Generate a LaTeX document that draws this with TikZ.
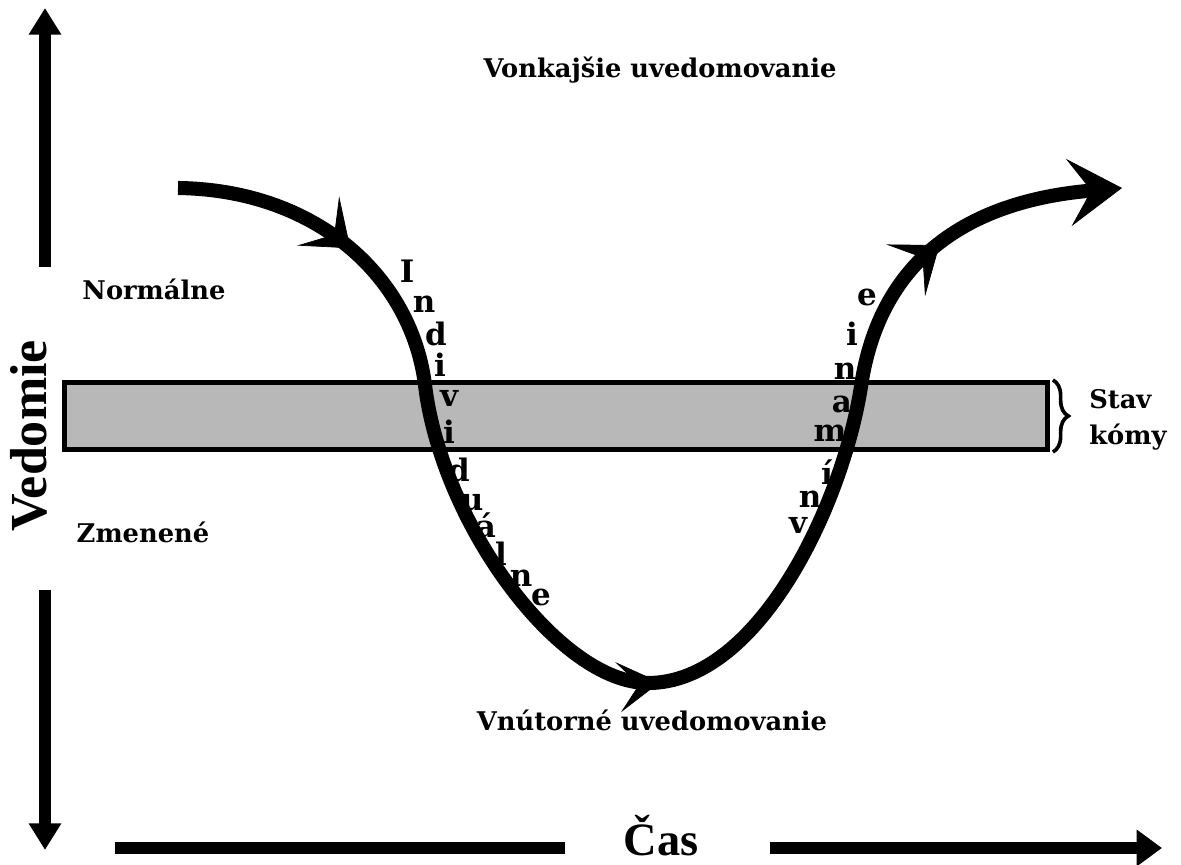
\documentclass[tikz,border=0pt]{standalone}
\usepackage{fontspec}
\usepackage{tikz}
\usetikzlibrary{arrows.meta,decorations.markings,decorations.pathreplacing}
\newfontfamily\tagfont{DejaVu Serif}
\newfontfamily\axisfont{Liberation Serif}

\tikzset{
  tipmark/.style={
    decoration={markings,
      mark=at position 0.125 with {\arrow{Stealth[length=30pt,width=46pt,inset=15pt,line width=0.5pt]}},
      mark=at position 0.505 with {\arrow{Stealth[length=30pt,width=36pt,inset=15pt,line width=0.5pt]}},
      mark=at position 0.87 with {\arrow{Stealth[length=30pt,width=46pt,inset=15pt,line width=0.5pt]}}},
    postaction={decorate}}
}

\begin{document}
\begin{tikzpicture}[x=0.025cm,y=-0.025cm,
  tag/.style={font=\tagfont\bfseries\fontsize{18.3}{26}\selectfont,inner sep=0pt},
  letter/.style={font=\tagfont\bfseries\fontsize{22}{24}\selectfont,inner sep=0pt},
  axistext/.style={font=\axisfont\bfseries\fontsize{37}{40}\selectfont,inner sep=0pt},
  axisline/.style={line width=8pt},
  flow/.style={line width=10pt,-{Stealth[length=38pt,width=48pt,inset=16pt,line width=0.5pt]}}]
  \useasboundingbox (0,0) rectangle (1181,865);

  % Coma band and brace
  \node[draw,line width=3.5pt,fill=black!28,minimum width=24.575cm,minimum height=1.675cm,inner sep=0pt] (band) at (556,416) {};
  \draw[decorate,decoration={brace,amplitude=11pt},line width=2.6pt] ([xshift=2pt]band.north east) -- ([xshift=2pt]band.south east);
  \node[tag,anchor=west,align=left] (coma) at (1089,420) {Stav\\kómy};

  % Labels
  \node[tag] (outer) at (660,70) {Vonkajšie uvedomovanie};
  \node[tag] (inner) at (652,720) {Vnútorné uvedomovanie};
  \node[tag] (normal) at (154,289) {Normálne};
  \node[tag] (altered) at (143,532) {Zmenené};

  % Axes
  \node[axistext,rotate=90] (vedomie) at (29,436) {Vedomie};
  \node[axistext,anchor=base,font=\axisfont\bfseries\fontsize{33}{36}\selectfont] (cas) at (661,855) {Čas};
  \coordinate (vtop) at (45,8);
  \coordinate (vupfoot) at (45,267);
  \coordinate (vdownfoot) at (45,590);
  \coordinate (vbottom) at (45,850);
  \coordinate (tstart) at (115,848);
  \coordinate (tleft) at (565,848);
  \coordinate (tright) at (770,848);
  \coordinate (tend) at (1162,848);
  \draw[axisline,-{Triangle[length=19pt,width=22pt]}] (vupfoot) -- (vtop);
  \draw[axisline,-{Triangle[length=19pt,width=22pt]}] (vdownfoot) -- (vbottom);
  \draw[axisline] (tstart) -- (tleft);
  \draw[axisline,-{Triangle[length=18pt,width=25pt]}] (tright) -- (tend);

  % Main flow curve
  \coordinate (flowstart) at (178,188);
  \coordinate (leftcross) at (425,385);
  \coordinate (dip) at (648,683);
  \coordinate (rightcross) at (862,380);
  \coordinate (flowend) at (1122,188);
  \draw[flow,tipmark] (flowstart) .. controls (320,190) and (412,280) .. (leftcross)
    .. controls (442,525) and (560,683) .. (dip)
    .. controls (760,683) and (845,500) .. (rightcross)
    .. controls (884,250) and (980,200) .. (flowend);

  % Letters along the curve
  \foreach \ch/\px/\py [count=\k] in {I/407/271,n/424/304,d/436/334,i/440/365,v/449/398,i/449/432,d/459/470,u/472/503,á/486/525,l/501/554,n/521/578,e/541/597}
    \node[letter] (down\k) at (\px,\py) {\ch};
  \foreach \ch/\px/\py [count=\k] in {e/867/297,i/852/334,n/845/371,a/842/404,m/830/433,í/827/472,n/810/499,v/798/525}
    \node[letter] (up\k) at (\px,\py) {\ch};
\end{tikzpicture}
\end{document}
